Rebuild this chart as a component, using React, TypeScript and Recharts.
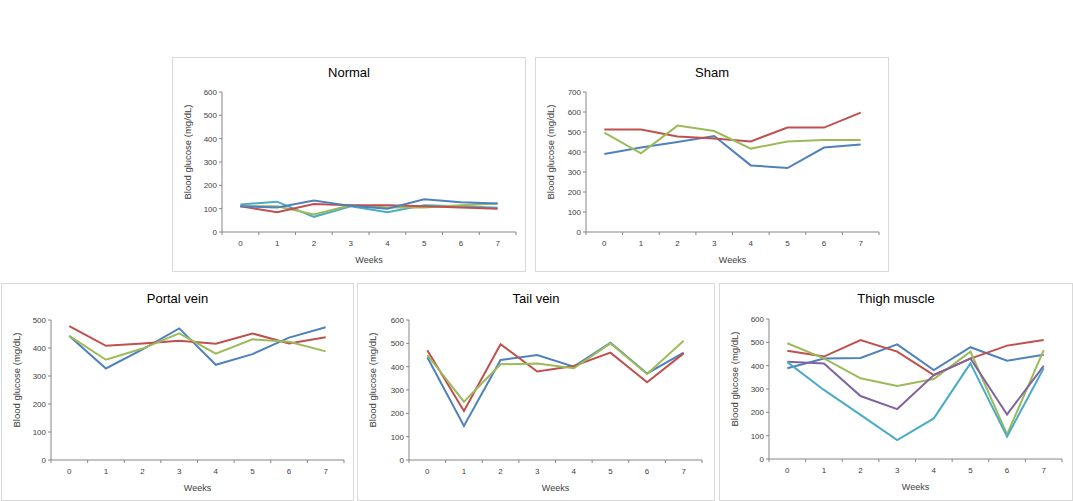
import React from 'react'
import { LineChart, Line, XAxis, YAxis } from 'recharts'

const weeks = [0, 1, 2, 3, 4, 5, 6, 7]

const normalBlue = [110, 105, 135, 112, 100, 140, 128, 122]
const normalRed = [110, 85, 120, 115, 115, 110, 105, 100]
const normalGreen = [110, 110, 75, 115, 105, 105, 115, 122]
const normalAqua = [118, 130, 65, 110, 85, 115, 110, 104]

const shamBlue = [390, 422, 450, 480, 333, 320, 422, 438]
const shamRed = [513, 513, 477, 467, 453, 522, 522, 597]
const shamGreen = [497, 393, 532, 505, 417, 452, 460, 460]

const portalBlue = [443, 327, 395, 470, 340, 378, 437, 474]
const portalRed = [478, 408, 416, 426, 415, 452, 416, 438]
const portalGreen = [443, 358, 398, 452, 380, 431, 422, 388]

const tailBlue = [440, 146, 429, 450, 400, 503, 371, 460]
const tailRed = [470, 210, 496, 379, 403, 460, 333, 457]
const tailGreen = [450, 250, 410, 414, 393, 500, 369, 511]

const thighBlue = [389, 431, 433, 491, 381, 479, 421, 447]
const thighRed = [464, 439, 510, 460, 360, 430, 486, 510]
const thighGreen = [496, 431, 346, 313, 343, 460, 105, 467]
const thighPurple = [417, 409, 270, 214, 360, 431, 191, 399]
const thighAqua = [415, 296, 189, 81, 174, 410, 96, 389]

const BLUE = '#4F81BD'
const RED = '#C0504D'
const GREEN = '#9BBB59'
const PURPLE = '#8064A2'
const AQUA = '#4BACC6'

const FONT = '"Liberation Sans", Arial, sans-serif'
const AXIS = '#868686'
const TEXT = '#404040'

// tick marks sit between weeks, labels in the middle of each band
const bounds = [...weeks.map(w => w - 0.5), weeks[weeks.length - 1] + 0.5]

interface Series { key: string; color: string; values: number[] }

interface PanelProps {
  title: string
  left: number
  top: number
  width: number
  height: number
  plot: { left: number; top: number; right: number; bottom: number }
  yMax: number
  series: Series[]
}

function Panel({ title, left, top, width, height, plot, yMax, series }: PanelProps) {
  const rows = weeks.map((w, i) => {
    const row: any = { week: w }
    series.forEach(s => { row[s.key] = s.values[i] })
    return row
  })
  const yTicks = Array.from({ length: yMax / 100 + 1 }, (_, i) => i * 100)
  const xAxisHeight = 31
  const halfBand = (plot.right - plot.left) / (weeks.length * 2)

  const WeekTick = (p: any) => {
    if (p.index >= weeks.length) return <g />
    return (
      <text x={p.x + halfBand} y={p.y} dy="0.71em" textAnchor="middle"
        fontSize={8} fill={TEXT} fontFamily={FONT}>
        {weeks[p.index]}
      </text>
    )
  }

  const YLabel = (p: any) => {
    const vb = p.viewBox
    const cx = vb.x + 15
    const cy = vb.y + vb.height / 2 - 10
    return (
      <text x={cx} y={cy} transform={`rotate(-90 ${cx} ${cy})`} textAnchor="middle"
        dominantBaseline="central" fontSize={9.5} fill={TEXT} fontFamily={FONT}>
        Blood glucose (mg/dL)
      </text>
    )
  }

  return (
    <div style={{
      position: 'absolute', left, top, width, height, boxSizing: 'border-box',
      border: '1px solid #d9d9d9', background: '#fff',
    }}>
      <div style={{
        position: 'absolute', left: 0, right: 0, top: 7, textAlign: 'center',
        fontFamily: FONT, fontSize: 13, lineHeight: '15px', color: '#000',
      }}>{title}</div>
      <div style={{ position: 'absolute', left: -1, top: -1 }}>
        <LineChart width={width} height={height} data={rows}
          margin={{ top: plot.top, right: width - plot.right, left: 0, bottom: height - plot.bottom - xAxisHeight }}>
          <XAxis dataKey="week" type="number" domain={[bounds[0], bounds[bounds.length - 1]]}
            ticks={bounds} interval={0} height={xAxisHeight}
            stroke={AXIS} tickSize={3} tickMargin={5} tick={WeekTick}
            label={{ value: 'Weeks', position: 'insideBottom', offset: 0, fontSize: 9, fill: TEXT, fontFamily: FONT }} />
          <YAxis type="number" domain={[0, yMax]} ticks={yTicks} interval={0} width={plot.left}
            stroke={AXIS} tickSize={3} tickMargin={2}
            tick={{ fontSize: 8, fill: TEXT, fontFamily: FONT }}
            label={<YLabel />} />
          {series.map(s => (
            <Line key={s.key} type="linear" dataKey={s.key} stroke={s.color} strokeWidth={2}
              dot={false} activeDot={false} isAnimationActive={false} />
          ))}
        </LineChart>
      </div>
    </div>
  )
}

export default function App() {
  return (
    <div style={{ position: 'absolute', left: 0, top: 0, width: 1073, height: 501, background: '#fff' }}>
      <Panel title="Normal" left={172} top={57} width={354} height={215}
        plot={{ left: 50, top: 35, right: 344, bottom: 175 }} yMax={600}
        series={[
          { key: 'aqua', color: AQUA, values: normalAqua },
          { key: 'green', color: GREEN, values: normalGreen },
          { key: 'red', color: RED, values: normalRed },
          { key: 'blue', color: BLUE, values: normalBlue },
        ]} />
      <Panel title="Sham" left={535} top={57} width={354} height={215}
        plot={{ left: 51, top: 35, right: 344, bottom: 175 }} yMax={700}
        series={[
          { key: 'blue', color: BLUE, values: shamBlue },
          { key: 'red', color: RED, values: shamRed },
          { key: 'green', color: GREEN, values: shamGreen },
        ]} />
      <Panel title="Portal vein" left={1} top={283} width={353} height={218}
        plot={{ left: 50, top: 37, right: 343, bottom: 177 }} yMax={500}
        series={[
          { key: 'blue', color: BLUE, values: portalBlue },
          { key: 'red', color: RED, values: portalRed },
          { key: 'green', color: GREEN, values: portalGreen },
        ]} />
      <Panel title="Tail vein" left={357} top={283} width={358} height={218}
        plot={{ left: 52, top: 37, right: 345, bottom: 177 }} yMax={600}
        series={[
          { key: 'blue', color: BLUE, values: tailBlue },
          { key: 'red', color: RED, values: tailRed },
          { key: 'green', color: GREEN, values: tailGreen },
        ]} />
      <Panel title="Thigh muscle" left={719} top={283} width={354} height={218}
        plot={{ left: 50, top: 36, right: 343, bottom: 176 }} yMax={600}
        series={[
          { key: 'blue', color: BLUE, values: thighBlue },
          { key: 'red', color: RED, values: thighRed },
          { key: 'green', color: GREEN, values: thighGreen },
          { key: 'purple', color: PURPLE, values: thighPurple },
          { key: 'aqua', color: AQUA, values: thighAqua },
        ]} />
    </div>
  )
}
